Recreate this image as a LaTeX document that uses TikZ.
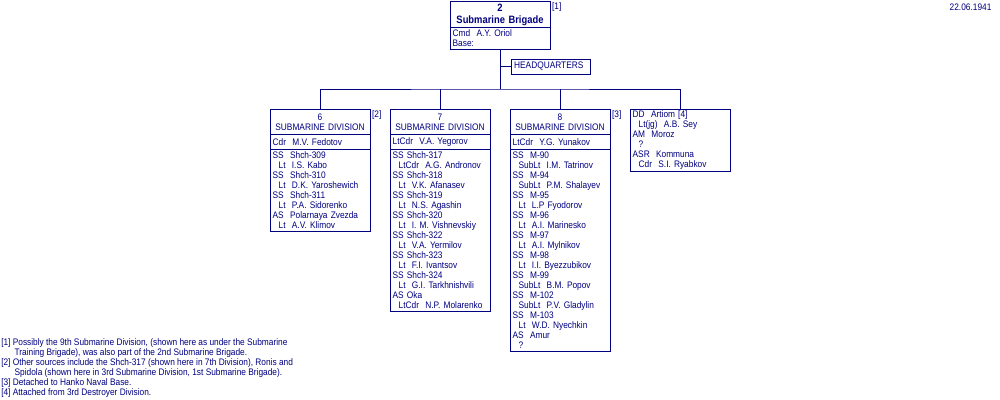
\documentclass[tikz,border=0pt]{standalone}
\usepackage{fontspec}
\setmainfont[FakeStretch=0.88]{Liberation Sans}
\usepackage{tikz}
\usetikzlibrary{positioning}
\definecolor{navy}{RGB}{0,0,128}
\pgfdeclarelayer{edgelayer}
\pgfdeclarelayer{nodelayer}
\pgfsetlayers{edgelayer,nodelayer,main}
\newcommand{\orgfont}{\fontsize{7.1pt}{7.5pt}\selectfont}
\newcommand{\rank}{\hspace*{4.5pt}}
\tikzstyle{unitbox}=[rectangle, draw=navy, fill=white, line width=0.75pt, text=navy, font=\orgfont, inner xsep=2pt, inner ysep=0.5pt, text width=71pt, anchor=north]
\tikzstyle{unittitle}=[unitbox, align=center, minimum height=18.75pt]
\tikzstyle{unitcmd}=[unitbox, align=left, minimum height=11.25pt]
\tikzstyle{unitbody}=[unitbox, align=left]
\tikzstyle{note}=[text=navy, font=\orgfont, inner sep=1pt]
\tikzstyle{link}=[-, draw=navy, line width=0.75pt]

\begin{document}
\begin{tikzpicture}[x=0.75pt, y=-0.75pt]
    \useasboundingbox (0,0) rectangle (1000,400);
    \begin{pgfonlayer}{nodelayer}
        % brigade
        \node [style=unittitle, minimum height=19.5pt, font=\fontsize{8pt}{9pt}\bfseries\selectfont] (brig) at (500, 1) {2\\Submarine Brigade};
        \node [style=unitbody, minimum height=16.5pt] (brigcmd) at (500, 27) {Cmd~ A.Y. Oriol\\Base:};
        \node [style=unitcmd, text width=55.25pt, anchor=west] (hq) at (511, 66.5) {HEADQUARTERS};
        % 6th division
        \node [style=unittitle] (div6) at (320, 109) {6\\SUBMARINE DIVISION};
        \node [style=unitcmd] (cmd6) at (320, 134) {Cdr~ M.V. Fedotov};
        \node [style=unitbody, minimum height=61.5pt] (body6) at (320, 149) {SS~ Shch-309\\\rank Lt~ I.S. Kabo\\SS~ Shch-310\\\rank Lt~ D.K. Yaroshewich\\SS~ Shch-311\\\rank Lt~ P.A. Sidorenko\\AS~ Polarnaya Zvezda\\\rank Lt~ A.V. Klimov};
        % 7th division
        \node [style=unittitle] (div7) at (440, 109) {7\\SUBMARINE DIVISION};
        \node [style=unitcmd] (cmd7) at (440, 134) {LtCdr~ V.A. Yegorov};
        \node [style=unitbody, minimum height=121.5pt] (body7) at (440, 149) {SS Shch-317\\\rank LtCdr~ A.G. Andronov\\SS Shch-318\\\rank Lt~ V.K. Afanasev\\SS Shch-319\\\rank Lt~ N.S. Agashin\\SS Shch-320\\\rank Lt~ I. M. Vishnevskiy\\SS Shch-322\\\rank Lt~ V.A. Yermilov\\SS Shch-323\\\rank Lt~ F.I. Ivantsov\\SS Shch-324\\\rank Lt~ G.I. Tarkhnishvili\\AS Oka\\\rank LtCdr~ N.P. Molarenko};
        % 8th division
        \node [style=unittitle] (div8) at (560, 109) {8\\SUBMARINE DIVISION};
        \node [style=unitcmd] (cmd8) at (560, 134) {LtCdr~ Y.G. Yunakov};
        \node [style=unitbody, minimum height=151.5pt] (body8) at (560, 149) {SS~ M-90\\\rank SubLt~ I.M. Tatrinov\\SS~ M-94\\\rank SubLt~ P.M. Shalayev\\SS~ M-95\\\rank Lt~ L.P Fyodorov\\SS~ M-96\\\rank Lt~ A.I. Marinesko\\SS~ M-97\\\rank Lt~ A.I. Mylnikov\\SS~ M-98\\\rank Lt~ I.I. Byezzubikov\\SS~ M-99\\\rank SubLt~ B.M. Popov\\SS~ M-102\\\rank SubLt~ P.V. Gladylin\\SS~ M-103\\\rank Lt~ W.D. Nyechkin\\AS~ Amur\\\rank ?};
        % attached ships
        \node [style=unitbody, minimum height=46.5pt] (attached) at (680, 109) {DD~ Artiom [4]\\\rank Lt(jg)~ A.B. Sey\\AM~ Moroz\\\rank ?\\ASR~ Kommuna\\\rank Cdr~ S.I. Ryabkov};
        % notes
        \node [style=note, anchor=north west] (fn1) at (brig.north east) {[1]};
        \node [style=note, anchor=north west] (fn2) at (div6.north east) {[2]};
        \node [style=note, anchor=north west] (fn3) at (div8.north east) {[3]};
        \node [style=note, anchor=east] (date) at (993, 7) {22.06.1941};
        \node [style=note, anchor=north west, align=left, inner sep=0pt] (notes) at (1, 338) {[1] Possibly the 9th Submarine Division, (shown here as under the Submarine\\\hspace*{10pt}Training Brigade), was also part of the 2nd Submarine Brigade.\\{}[2] Other sources include the Shch-317 (shown here in 7th Division), Ronis and\\\hspace*{10pt}Spidola (shown here in 3rd Submarine Division, 1st Submarine Brigade).\\{}[3] Detached to Hanko Naval Base.\\{}[4] Attached from 3rd Destroyer Division.};
    \end{pgfonlayer}
    \begin{pgfonlayer}{edgelayer}
        \coordinate (bus) at (500, 89);
        \draw [style=link] (brigcmd.south) to (bus);
        \draw [style=link] (hq.west) to (hq.west -| bus);
        \draw [style=link] (div6.north) |- (bus) -| (attached.north);
        \draw [style=link] (div7.north) to (div7.north |- bus);
        \draw [style=link] (div8.north) to (div8.north |- bus);
    \end{pgfonlayer}
\end{tikzpicture}
\end{document}
